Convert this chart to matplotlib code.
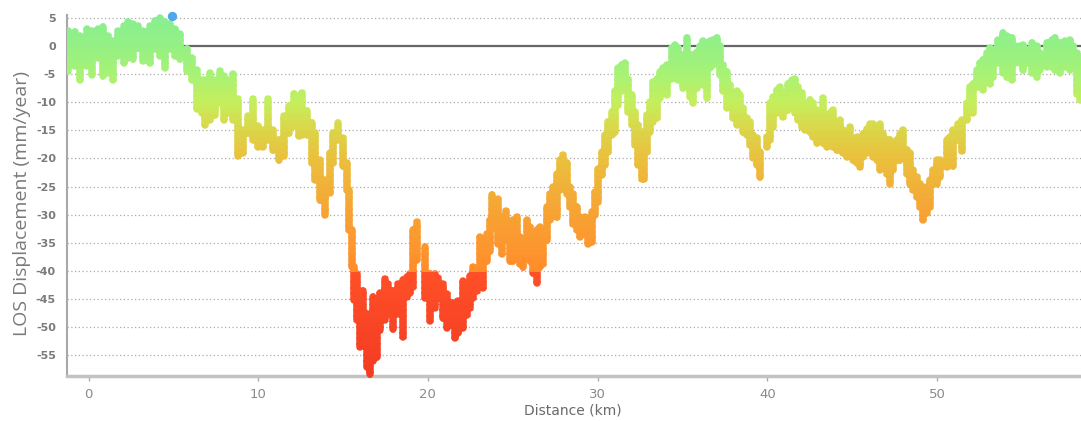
"""Profile plot

LOS displacement rate of the PS points along the section line, coloured by velocity.
"""
import numpy as np
import matplotlib
matplotlib.use("Agg")
import matplotlib.pyplot as plt
from matplotlib.patches import Rectangle

# Distance along the profile (km) of each cluster of points
dist_km = [
    -1.19, -0.80, -0.50, -0.11, 0.19, 0.58, 0.87, 1.17, 1.47, 1.76, 2.06, 2.35, 2.64, 2.94,
    3.23, 3.62, 3.92, 4.21, 4.51, 4.80, 5.10, 5.39, 5.78, 6.08, 6.37, 6.67, 6.86, 7.16,
    7.45, 7.75, 7.98, 8.30, 8.53, 8.83, 9.12, 9.42, 9.71, 10.01, 10.30, 10.60, 10.90, 11.20,
    11.50, 11.80, 12.10, 12.40,
    12.56, 12.86, 13.15, 13.35, 13.64, 13.94, 14.23, 14.43, 14.72, 15.02, 15.21, 15.37,
    15.51, 15.65, 15.80, 16.00, 16.20, 16.39, 16.59, 16.79, 16.98, 17.18, 17.47, 17.67,
    17.96, 18.26, 18.55, 18.75, 18.95, 19.14, 19.34,
    19.83, 20.12, 20.42, 20.61, 20.91, 21.11, 21.40, 21.60, 21.79, 22.09, 22.29, 22.48,
    22.68, 22.88, 23.07, 23.27, 23.47, 23.66, 23.76, 23.96, 24.15, 24.35, 24.60, 24.84,
    25.03, 25.23, 25.43, 25.62, 25.82, 26.02, 26.21, 26.41, 26.61, 26.80, 27.00, 27.20,
    27.39, 27.59, 27.78, 27.94, 28.18, 28.37, 28.57, 28.77, 28.96, 29.26, 29.45,
    29.65, 29.85, 30.04, 30.24, 30.44, 30.63, 30.83, 31.03, 31.22, 31.42, 31.62, 31.81,
    32.01, 32.20, 32.40, 32.60, 32.73, 32.89, 33.09, 33.29, 33.48, 33.68, 33.88, 34.07,
    34.37, 34.57, 34.76, 35.05, 35.25, 35.45, 35.65, 35.84, 36.04, 36.23, 36.43, 36.63,
    36.82, 37.02, 37.22, 37.41, 37.61, 37.81, 38.00, 38.20, 38.40, 38.59, 38.79, 38.98,
    39.18, 39.38, 39.57,
    39.96, 40.16, 40.36, 40.55, 40.75, 40.95, 41.24, 41.44, 41.63, 41.83, 42.03, 42.22,
    42.52, 42.72, 42.91, 43.11, 43.31, 43.50, 43.70, 43.89, 44.09, 44.29, 44.48, 44.68,
    44.88, 45.07, 45.27, 45.46, 45.66, 45.86, 46.05, 46.25, 46.45, 46.64, 46.84, 47.03,
    47.23, 47.43, 47.62, 47.82, 48.02, 48.21, 48.41, 48.61, 48.80, 49.00, 49.20, 49.39,
    49.59, 49.79, 49.98, 50.18,
    50.57, 50.77, 50.97, 51.26, 51.45, 51.75, 51.94, 52.14, 52.34, 52.53, 52.73, 52.93,
    53.12, 53.32, 53.62, 53.91, 54.11, 54.40, 54.60, 54.89, 55.09, 55.29, 55.58, 55.88,
    56.07, 56.46, 56.76, 56.96, 57.25, 57.55, 57.84, 58.04, 58.23, 58.43,
]

# Highest LOS velocity in each cluster (mm/year)
top_mm = [
    2.7, 2.4, 1.8, 3.0, 2.7, 3.0, 3.3, 1.8, 0.9, 2.7, 3.6, 4.2, 3.9, 3.6,
    2.7, 3.6, 4.5, 5.0, 4.2, 3.9, 3.0, 2.1, -0.6, -2.1, -4.2, -6.0, -6.0, -4.8,
    -6.0, -4.5, -5.4, -6.0, -5.0, -9.5, -14.9, -12.5, -9.5, -14.3, -14.9, -9.5, -14.9, -16.7,
    -12.5, -10.7, -8.6, -8.9,
    -8.3, -11.5, -13.7, -15.5, -20.2, -23.8, -19.0, -15.5, -13.7, -16.4, -20.8, -25.6,
    -32.7, -39.3, -40.5, -44.6, -43.5, -47.6, -51.2, -44.6, -45.2, -44.0, -41.4, -42.3,
    -43.5, -42.3, -41.7, -41.1, -40.5, -32.7, -31.3,
    -35.8, -40.6, -40.6, -41.2, -42.4, -44.2, -45.7, -46.6, -45.4, -41.8, -42.4, -40.9,
    -39.4, -40.6, -34.0, -34.6, -33.4, -31.0, -26.6, -27.5, -27.2, -30.4, -29.3, -32.2,
    -31.0, -30.4, -34.0, -36.4, -31.0, -32.2, -36.4, -32.8, -32.2, -33.4, -28.7, -26.3,
    -25.1, -22.7, -20.3, -19.4, -20.9, -25.1, -26.3, -28.7, -30.4, -30.4, -31.0,
    -29.5, -25.9, -21.8, -18.8, -15.8, -13.5, -11.7, -8.1, -4.0, -3.4, -3.1, -5.8,
    -8.7, -11.7, -14.1, -15.3, -18.8, -12.3, -9.9, -6.4, -5.8, -4.6, -4.0, -3.4,
    -0.4, 0.2, -0.4, -1.6, 1.4, -2.8, -1.6, -1.0, -0.1, 0.8, 0.2, 0.8,
    1.1, 1.4, -0.1, -3.4, -4.6, -6.9, -9.3, -8.1, -8.7, -11.1, -12.9, -13.5,
    -15.8, -16.4, -18.8,
    -16.2, -10.2, -9.0, -7.8, -7.3, -8.4, -6.7, -6.1, -5.8, -7.3, -8.4, -10.2,
    -9.6, -10.2, -11.4, -12.0, -9.3, -15.0, -12.0, -11.4, -14.4, -13.2, -15.0, -16.2,
    -14.4, -16.8, -16.2, -17.3, -15.6, -14.7, -13.8, -13.8, -14.4, -13.8, -15.6, -16.8,
    -16.8, -17.3, -16.8, -15.6, -15.0, -18.5, -19.1, -22.1, -23.3, -24.5, -25.1, -25.1,
    -23.9, -22.1, -20.3, -20.3,
    -16.8, -16.2, -15.0, -13.8, -13.2, -10.2, -7.3, -6.7, -4.3, -3.1, -2.5, -1.3,
    -0.4, -0.7, 1.1, 2.3, 1.7, 1.4, -0.1, -0.1, 0.2, -0.7, 0.5, -0.1,
    -1.3, 0.5, 1.1, 1.4, 0.5, 0.8, 1.1, -0.1, -1.3, -1.9,
]

# Lowest LOS velocity in each cluster (mm/year)
bottom_mm = [
    -4.5, -3.6, -6.0, -3.6, -5.1, -2.1, -5.4, -4.8, -6.0, -1.8, -3.0, -2.1, -2.4, -0.3,
    -2.7, -3.0, -0.6, -1.8, -3.9, -0.6, -1.8, -2.4, -4.5, -6.0, -11.3, -11.9, -14.0, -13.1,
    -12.2, -10.1, -13.1, -11.9, -13.1, -19.6, -19.0, -15.5, -16.7, -17.9, -17.9, -16.7, -18.5, -20.2,
    -19.6, -15.5, -14.3, -16.1,
    -15.8, -15.8, -20.8, -23.8, -27.4, -30.1, -26.2, -20.8, -16.7, -21.4, -25.6, -32.7,
    -39.3, -45.2, -48.8, -53.6, -51.2, -57.1, -58.3, -56.0, -55.4, -50.6, -48.8, -47.6,
    -50.3, -47.6, -51.8, -44.6, -44.0, -42.9, -38.1,
    -44.8, -49.0, -46.6, -44.8, -48.4, -50.1, -49.6, -51.9, -51.0, -50.1, -47.8, -46.6,
    -44.8, -43.6, -41.8, -43.0, -38.2, -36.4, -31.0, -32.2, -35.2, -37.0, -34.6, -38.2,
    -38.2, -37.0, -38.8, -39.4, -37.0, -38.2, -40.3, -42.1, -39.4, -38.8, -34.6, -31.0,
    -29.3, -30.4, -25.7, -23.9, -26.3, -28.7, -31.6, -32.8, -34.0, -33.4, -35.2,
    -34.8, -30.1, -27.7, -23.0, -21.2, -18.8, -15.8, -15.3, -10.5, -8.1, -6.9, -11.7,
    -14.1, -17.6, -21.2, -23.6, -23.6, -18.8, -15.3, -13.5, -12.9, -9.3, -8.1, -8.7,
    -5.8, -5.2, -6.1, -7.5, -6.9, -9.0, -10.2, -7.5, -5.2, -6.9, -9.3, -4.0,
    -3.4, -2.2, -5.2, -8.1, -11.1, -10.5, -12.9, -14.1, -10.5, -15.3, -15.8, -17.6,
    -20.0, -21.2, -23.3,
    -17.9, -16.8, -14.4, -12.0, -11.4, -12.6, -11.4, -10.2, -12.0, -13.2, -14.4, -15.0,
    -15.3, -16.2, -17.3, -16.8, -17.3, -17.9, -16.8, -17.9, -18.5, -18.5, -19.1, -19.7,
    -19.1, -20.3, -20.9, -21.5, -19.7, -19.1, -18.5, -19.7, -20.3, -22.1, -20.3, -22.7,
    -24.5, -22.1, -20.3, -20.3, -19.7, -22.7, -24.5, -25.7, -26.8, -28.6, -31.0, -29.8,
    -28.6, -24.5, -24.5, -23.3,
    -21.5, -19.8, -21.3, -16.8, -18.6, -13.2, -10.2, -12.0, -7.3, -6.1, -7.9, -6.1,
    -6.7, -5.5, -3.1, -4.9, -5.5, -6.1, -3.1, -3.1, -4.3, -3.1, -4.9, -5.5,
    -4.3, -3.7, -3.7, -4.3, -4.9, -3.7, -4.3, -3.7, -8.5, -9.6,
]

# Single point above the colour scale
outlier_km = [4.9]
outlier_mm = [5.3]

x_ticks = [0, 10, 20, 30, 40, 50]
y_ticks = [5, 0, -5, -10, -15, -20, -25, -30, -35, -40, -45, -50, -55]

XLIM = (-1.27, 58.49)
YLIM = (-58.7, 5.5)

# Velocity -> colour ramp (hard step from orange to red at -40 mm/year)
COLOR_STOPS = [
    (-60.0, "#f23a22"),
    (-50.0, "#f84425"),
    (-40.0, "#ff5027"),
    (-39.99, "#ff8c2a"),
    (-30.0, "#f8a234"),
    (-20.0, "#eabf3c"),
    (-15.0, "#dcd448"),
    (-10.0, "#c6ee5c"),
    (-5.0, "#a8f274"),
    (0.0, "#94f084"),
    (6.0, "#88ee92"),
]
OUTLIER_COLOR = "#4fa8ee"
LABEL_GRAY = "#7a7a7a"


def value_color(value):
    """Return the RGB colour of a velocity value on the ramp"""
    levels = [s[0] for s in COLOR_STOPS]
    rgb = np.array([matplotlib.colors.to_rgb(s[1]) for s in COLOR_STOPS])
    return tuple(np.interp(value, levels, rgb[:, k]) for k in range(3))


def profile_path(xs, tops, bottoms):
    """One vertical stroke per cluster, strokes separated by NaN breaks"""
    px, py = [], []
    for x, t, b in zip(xs, tops, bottoms):
        px += [x, x, np.nan]
        py += [t, b, np.nan]
    return px, py


def draw_profile(ax, px, py):
    """Draw the strokes in thin horizontal bands, each band in the colour of its velocity"""
    for lo in range(-60, 6):
        line, = ax.plot(px, py, color=value_color(lo + 0.5), lw=5.4,
                        solid_capstyle="round", zorder=3)
        band = Rectangle((XLIM[0], lo - 0.15), XLIM[1] - XLIM[0], 1.3, transform=ax.transData)
        line.set_clip_path(band)


def customize_axes(ax):
    """Grid, spines, ticks and labels"""
    for t in y_ticks:
        if t == 0:
            ax.axhline(0, color="#666666", lw=1.6, zorder=2)
        else:
            ax.axhline(t, color="#a9a9a9", lw=0.9, ls=(0, (1, 2)), zorder=1)

    for spine in ["top", "right"]:
        ax.spines[spine].set_visible(False)
    ax.spines["left"].set_color("#a8a8a8")
    ax.spines["left"].set_linewidth(1.5)
    ax.spines["bottom"].set_color("#c2c2c2")
    ax.spines["bottom"].set_linewidth(2.5)

    ax.set_xlim(*XLIM)
    ax.set_ylim(*YLIM)
    ax.set_xticks(x_ticks)
    ax.set_yticks(y_ticks)
    ax.set_yticklabels([str(t) for t in y_ticks], fontsize=8, fontweight="bold", color=LABEL_GRAY)
    ax.set_xticklabels([str(t) for t in x_ticks], fontsize=9.5, color="#8a8a8a",
                       family=["Liberation Sans Narrow", "DejaVu Sans"])
    ax.tick_params(axis="y", length=0, pad=8)
    ax.tick_params(axis="x", length=3.5, width=1, color="#aaaaaa", pad=5)


def main():
    fig = plt.figure(figsize=(10.81, 4.21), dpi=100)
    ax = fig.add_axes([67 / 1081, 45 / 421, 1 - 67 / 1081, 361 / 421])

    px, py = profile_path(dist_km, top_mm, bottom_mm)
    draw_profile(ax, px, py)
    ax.scatter(outlier_km, outlier_mm, s=45, color=OUTLIER_COLOR, linewidths=0, zorder=4, clip_on=False)

    customize_axes(ax)

    # Axis titles placed in figure coordinates
    fig.text(22 / 1081, 1 - 203 / 421, "LOS Displacement (mm/year)", rotation=90,
             ha="center", va="center", fontsize=14, color=LABEL_GRAY, family="Open Sans")
    fig.text(573 / 1081, 1 - 411 / 421, "Distance (km)", ha="center", va="center",
             fontsize=10, color="#6a6a6a", family=["Liberation Sans Narrow", "DejaVu Sans"])

    fig.savefig("out.png", dpi=100)


if __name__ == '__main__':
    main()
